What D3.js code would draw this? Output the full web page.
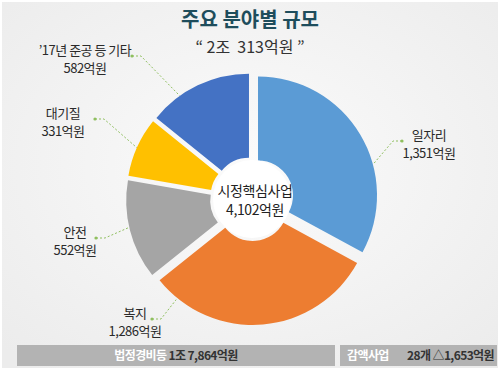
<!DOCTYPE html>
<html>
<head>
<meta charset="utf-8">
<script src="https://cdn.jsdelivr.net/npm/d3@7"></script>
<style>
  html, body { margin: 0; padding: 0; background: #fff; }
  svg { display: block; font-family: "Noto Sans CJK KR", "Noto Sans", sans-serif; }
</style>
</head>
<body>
<div id="chart"></div>
<script>
// data
const categories = ["일자리", "복지", "안전", "대기질", "\u201917년 준공 등 기타"];
const values = [1351, 1286, 552, 331, 582];
const valueLabels = ["1,351억원", "1,286억원", "552억원", "331억원", "582억원"];
const colors = ["#5b9bd5", "#ed7d31", "#a5a5a5", "#ffc000", "#4472c4"];
const titleText = "주요 분야별 규모";
const subtitleText = "\u201C 2조  313억원 \u201D";
const centerLines = ["시정핵심사업", "4,102억원"];
const footLeft = ["법정경비등", "1조 7,864억원"];
const footRight = ["감액사업", "28개 △1,653억원"];

// label placement (layout only): label centre, leader angle (deg), dot x, side
const labelPos = [
  { x: 429, y: 135, ang: 74, dotX: 402, dir: 1 },
  { x: 135, y: 313, ang: 217, dotX: 152, dir: -1 },
  { x: 75, y: 232, ang: 257, dotX: 96, dir: -1 },
  { x: 63, y: 113, ang: 294, dotX: 95, dir: -1 },
  { x: 85, y: 50, ang: 325, dotX: 132, dir: -1 }
];

const width = 500, height = 374;
const cx = 252, cy = 199, radius = 119, inner = 35, explode = 7;

const svg = d3.select("#chart").append("svg")
  .attr("width", width)
  .attr("height", height);

const defs = svg.append("defs");
const grad = defs.append("radialGradient").attr("id", "bg")
  .attr("cx", "50%").attr("cy", "45%").attr("r", "70%");
grad.append("stop").attr("offset", "0%").attr("stop-color", "#fbfbfb");
grad.append("stop").attr("offset", "100%").attr("stop-color", "#ececec");

svg.append("rect")
  .attr("width", width).attr("height", height)
  .attr("fill", "#fff");
svg.append("rect")
  .attr("x", 2).attr("y", 2)
  .attr("width", width - 4).attr("height", height - 8)
  .attr("fill", "url(#bg)");

// titles
svg.append("text")
  .attr("x", 250).attr("y", 27)
  .attr("text-anchor", "middle")
  .attr("font-size", 20)
  .attr("font-weight", "bold")
  .attr("fill", "#1e4d5c")
  .text(titleText);

svg.append("text")
  .attr("x", 250).attr("y", 53)
  .attr("text-anchor", "middle")
  .attr("font-size", 16)
  .attr("fill", "#333")
  .attr("xml:space", "preserve")
  .text(subtitleText);

// pie
const pie = d3.pie().sort(null).value(d => d);
const arcs = pie(values);
const arc = d3.arc().innerRadius(inner).outerRadius(radius);

const g = svg.append("g").attr("transform", `translate(${cx},${cy})`);

g.selectAll(".slice")
  .data(arcs)
  .enter().append("path")
  .attr("class", "slice")
  .attr("d", arc)
  .attr("fill", (d, i) => colors[i])
  .attr("transform", d => {
    const a = (d.startAngle + d.endAngle) / 2;
    return `translate(${Math.sin(a) * explode},${-Math.cos(a) * explode})`;
  });

g.append("circle").attr("r", inner + 4).attr("fill", "#fff");

g.append("text")
  .attr("text-anchor", "middle")
  .attr("font-size", 14)
  .attr("fill", "#222")
  .attr("letter-spacing", -0.4)
  .selectAll("tspan")
  .data(centerLines)
  .enter().append("tspan")
  .attr("x", 3)
  .attr("y", (d, i) => -3 + i * 19)
  .text(d => d);

// leaders + labels
const leaderR = radius + explode;
labelPos.forEach((p, i) => {
  const a = p.ang * Math.PI / 180;
  const ex = cx + Math.sin(a) * leaderR;
  const ey = cy - Math.cos(a) * leaderR;
  const dy = p.y + 6;
  const elbowX = p.dotX - p.dir * 9;
  svg.append("path")
    .attr("d", d3.line()([[p.dotX, dy], [elbowX, dy], [ex, ey]]))
    .attr("fill", "none")
    .attr("stroke", "#8fbf5f")
    .attr("stroke-width", 1)
    .attr("stroke-dasharray", "2,2");
  svg.append("circle")
    .attr("cx", p.dotX).attr("cy", dy).attr("r", 1.6)
    .attr("fill", "#8fbf5f");

  const t = svg.append("text")
    .attr("text-anchor", "middle")
    .attr("font-size", 13)
    .attr("fill", "#2a2a2a")
    .attr("letter-spacing", -0.5);
  [categories[i], valueLabels[i]].forEach((s, k) => {
    t.append("tspan")
      .attr("x", p.x)
      .attr("y", p.y + 5 + k * 18)
      .text(s);
  });
});

// footer boxes
svg.append("rect")
  .attr("x", 17).attr("y", 345)
  .attr("width", 318).attr("height", 21)
  .attr("fill", "#b3b3b3");
svg.append("rect")
  .attr("x", 340).attr("y", 345)
  .attr("width", 157).attr("height", 21)
  .attr("fill", "#b3b3b3");

const f1 = svg.append("text")
  .attr("x", 176).attr("y", 360)
  .attr("text-anchor", "middle")
  .attr("font-size", 12)
  .attr("font-weight", "bold")
  .attr("letter-spacing", -0.6);
f1.append("tspan").attr("fill", "#fff").text(footLeft[0] + " ");
f1.append("tspan").attr("fill", "#333").text(footLeft[1]);

svg.append("text")
  .attr("x", 347).attr("y", 360)
  .attr("font-size", 12)
  .attr("font-weight", "bold")
  .attr("letter-spacing", -0.6)
  .attr("fill", "#fff")
  .text(footRight[0]);
svg.append("text")
  .attr("x", 494).attr("y", 360)
  .attr("text-anchor", "end")
  .attr("font-size", 12)
  .attr("font-weight", "bold")
  .attr("letter-spacing", -0.6)
  .attr("fill", "#333")
  .text(footRight[1]);
</script>
</body>
</html>
